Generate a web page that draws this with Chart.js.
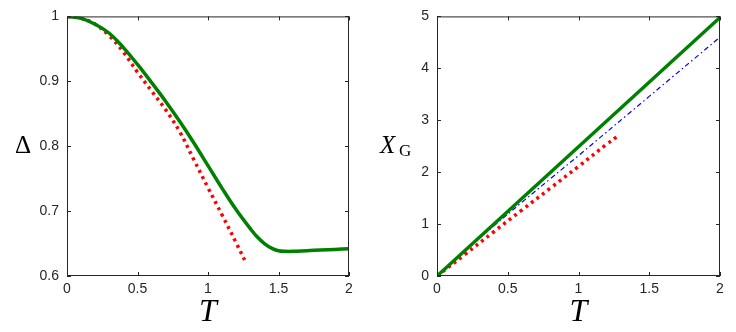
<!DOCTYPE html>
<html>
<head>
<meta charset="utf-8">
<script src="https://cdn.jsdelivr.net/npm/chart.js@4.4.1/dist/chart.umd.min.js"></script>
<style>
  body { margin: 0; background: #fff; }
  .panel { position: absolute; top: 0; width: 368px; height: 332px; }
</style>
</head>
<body>
<div class="panel" style="left:0"><canvas id="gapChart" width="368" height="332"></canvas></div>
<div class="panel" style="left:368px"><canvas id="xgChart" width="368" height="332"></canvas></div>
<script>
// Left panel: Delta vs T
const gapT = [0, 0.1, 0.2, 0.3, 0.4, 0.5, 0.6, 0.7, 0.8, 0.9, 1.0, 1.1, 1.2, 1.3, 1.35, 1.4, 1.45, 1.5, 1.55, 1.6, 1.7, 1.8, 1.9, 2.0];
const gapFull = [1.0, 0.997, 0.988, 0.974, 0.952, 0.926, 0.898, 0.869, 0.838, 0.805, 0.770, 0.735, 0.702, 0.673, 0.660, 0.650, 0.643, 0.639, 0.638, 0.638, 0.639, 0.640, 0.641, 0.642];
const gapApproxT = [0, 0.1, 0.2, 0.3, 0.4, 0.5, 0.6, 0.7, 0.8, 0.9, 1.0, 1.1, 1.2, 1.27];
const gapApprox = [1.0, 0.997, 0.988, 0.970, 0.945, 0.914, 0.885, 0.856, 0.822, 0.779, 0.736, 0.694, 0.651, 0.620];

// Right panel: X_G vs T
const xgT = [0, 2];
const xgFull = [0, 4.98];
const xgMidT = [0, 0.2, 0.4, 0.6, 0.8, 1.0, 1.5, 2.0];
const xgMid = [0, 0.49, 0.96, 1.42, 1.87, 2.32, 3.46, 4.6];
const xgApproxT = [0, 0.2, 0.4, 0.6, 0.8, 1.0, 1.2, 1.27];
const xgApprox = [0, 0.42, 0.85, 1.27, 1.69, 2.11, 2.54, 2.68];

const tTicks = [0, 0.5, 1, 1.5, 2];

const pts = (xs, ys) => xs.map((x, i) => ({ x: x, y: ys[i] }));
const axisColor = "#262626";
const tickFont = { family: "'Liberation Sans', Arial, sans-serif", size: 14 };

// MATLAB-like box with inward ticks on all four sides, plus horizontal y label
const boxPlugin = {
  id: "matlabBox",
  afterDraw(chart, args, opts) {
    const { ctx, chartArea: a, scales } = chart;
    ctx.save();
    ctx.strokeStyle = axisColor;
    ctx.lineWidth = 1;
    ctx.strokeRect(a.left + 0.5, a.top + 0.5, a.right - a.left - 1, a.bottom - a.top - 1);
    const len = 4;
    ctx.beginPath();
    scales.x.ticks.forEach(t => {
      const px = Math.round(scales.x.getPixelForValue(t.value)) + 0.5;
      ctx.moveTo(px, a.bottom); ctx.lineTo(px, a.bottom - len);
      ctx.moveTo(px, a.top); ctx.lineTo(px, a.top + len);
    });
    scales.y.ticks.forEach(t => {
      const py = Math.round(scales.y.getPixelForValue(t.value)) + 0.5;
      ctx.moveTo(a.left, py); ctx.lineTo(a.left + len, py);
      ctx.moveTo(a.right, py); ctx.lineTo(a.right - len, py);
    });
    ctx.stroke();

    // y label
    ctx.fillStyle = "#000";
    ctx.textBaseline = "middle";
    const yMid = (a.top + a.bottom) / 2;
    if (opts.label === "delta") {
      ctx.font = "25px 'Liberation Serif', serif";
      ctx.textAlign = "center";
      ctx.fillText("Δ", 23, yMid);
    } else {
      ctx.font = "italic 25px 'Liberation Serif', serif";
      ctx.textAlign = "left";
      ctx.fillText("X", 12, yMid);
      ctx.font = "17px 'Liberation Serif', serif";
      ctx.fillText("G", 31, yMid + 5);
    }
    ctx.restore();
  }
};

function makeChart(id, datasets, yOpts, yWidth, padRight, label) {
  new Chart(document.getElementById(id), {
    type: "line",
    data: { datasets: datasets },
    plugins: [boxPlugin],
    options: {
      responsive: false,
      animation: false,
      devicePixelRatio: 1,
      layout: { padding: { top: 12, right: padRight, bottom: 0, left: 0 } },
      elements: { point: { radius: 0 }, line: { tension: 0.4 } },
      plugins: {
        legend: { display: false },
        tooltip: { enabled: false },
        matlabBox: { label: label }
      },
      scales: {
        x: {
          type: "linear",
          min: 0,
          max: 2,
          afterBuildTicks: s => { s.ticks = tTicks.map(v => ({ value: v })); },
          grid: { display: false, drawTicks: false },
          border: { display: false },
          ticks: { color: axisColor, font: tickFont, padding: 5, maxRotation: 0, callback: v => String(v) },
          title: {
            display: true,
            text: "T",
            color: "#000",
            padding: { top: 0, bottom: 0 },
            font: { family: "'Liberation Serif', serif", style: "italic", size: 32 }
          },
          afterFit: s => { s.height = 56; }
        },
        y: Object.assign({
          grid: { display: false, drawTicks: false },
          border: { display: false },
          afterFit: s => { s.width = yWidth; }
        }, yOpts)
      }
    }
  });
}

makeChart("gapChart", [
  {
    data: pts(gapT, gapFull),
    borderColor: "#008000",
    borderWidth: 3.5
  },
  {
    data: pts(gapApproxT, gapApprox),
    borderColor: "#ff0000",
    borderWidth: 3.5,
    borderDash: [3, 4]
  }
], { min: 0.6, max: 1, ticks: { color: axisColor, font: tickFont, padding: 8, stepSize: 0.1, callback: v => String(+v.toFixed(2)) } }, 67, 19, "delta");

makeChart("xgChart", [
  {
    data: pts(xgT, xgFull),
    borderColor: "#008000",
    borderWidth: 3.5,
    tension: 0
  },
  {
    data: pts(xgMidT, xgMid),
    borderColor: "#0000ff",
    borderWidth: 1.2,
    borderDash: [5, 3, 1.5, 3]
  },
  {
    data: pts(xgApproxT, xgApprox),
    borderColor: "#ff0000",
    borderWidth: 3.5,
    borderDash: [3, 4]
  }
], { min: 0, max: 5, ticks: { color: axisColor, font: tickFont, padding: 8, stepSize: 1, callback: v => String(v) } }, 69, 16, "xg");
</script>
</body>
</html>
